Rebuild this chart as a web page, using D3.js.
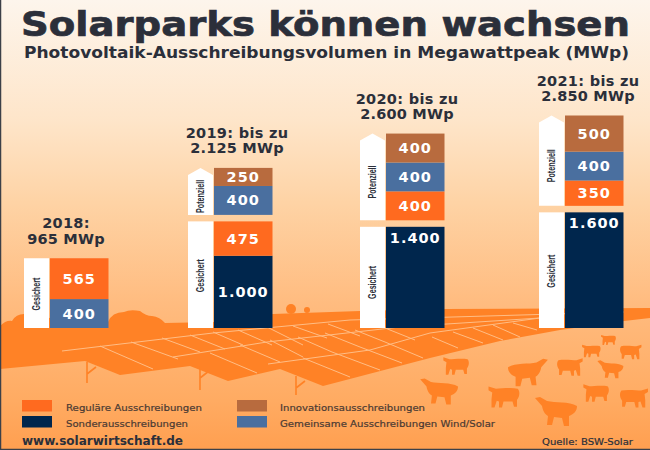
<!DOCTYPE html>
<html lang="de">
<head>
<meta charset="utf-8">
<title>Solarparks können wachsen</title>
<script src="https://cdn.jsdelivr.net/npm/d3@7"></script>
<style>
  html, body { margin: 0; padding: 0; background: #fff; }
  svg { display: block; }
  text { fill: #2b2f3a; font-family: "DejaVu Sans", sans-serif; font-weight: bold; }
</style>
</head>
<body>
<div id="chart"></div>
<script>
// Chart values
const years = ["2018", "2019", "2020", "2021"];
const headLine1 = ["2018:", "2019: bis zu", "2020: bis zu", "2021: bis zu"];
const headLine2 = ["965 MWp", "2.125 MWp", "2.600 MWp", "2.850 MWp"];

// secured volumes, stacked bottom-up: Gemeinsame, Sonder, Reguläre
const securedGemeinsam = [400, 0, 0, 0];
const securedSonder = [0, 1000, 1400, 1600];
const securedRegulaer = [565, 475, 0, 0];

// potential volumes, stacked bottom-up: Reguläre, Gemeinsame, Innovation
const potentialRegulaer = [0, 0, 400, 350];
const potentialGemeinsam = [0, 400, 400, 400];
const potentialInnovation = [0, 250, 400, 500];

const legendLabels = ["Reguläre Ausschreibungen", "Sonderausschreibungen", "Innovationsausschreibungen", "Gemeinsame Ausschreibungen Wind/Solar"];

const colors = { regulaer: "#ff6a1f", sonder: "#00264d", gemeinsam: "#4a6f9f", innovation: "#b86b3e" };

const width = 650;
const height = 450;
const barWidth = 58.5;
const tagWidth = 25;
const stackGap = 6.5;

const svg = d3.select("#chart").append("svg")
    .attr("width", width)
    .attr("height", height)
    .attr("viewBox", `0 0 ${width} ${height}`);

const xBar = d3.scaleOrdinal().domain(years).range([50, 214, 386, 565]);
const xHead = d3.scaleOrdinal().domain(years).range([66, 237, 407, 588]);
const yScale = d3.scaleLinear().domain([0, 2850]).range([328, 122]);
const len = v => yScale(0) - yScale(v);

// Background gradient
const bg = svg.append("defs").append("linearGradient")
    .attr("id", "bg").attr("x1", 0).attr("y1", 0).attr("x2", 0).attr("y2", 1);
[[0, "#fdf5ec"], [0.27, "#fee5c9"], [0.45, "#fed3a5"], [0.67, "#ffbc80"], [0.89, "#ffab62"], [1, "#ff9f50"]]
    .forEach(s => bg.append("stop").attr("offset", s[0]).attr("stop-color", s[1]));

svg.append("rect").attr("width", width).attr("height", height).attr("fill", "url(#bg)");

// Landscape decoration
const groundColor = "#ff8226";
const landscape = svg.append("g");

landscape.append("path")
    .attr("fill", groundColor)
    .attr("d", "M0,326 Q6,320 12,321 Q16,314 24,314 L50,318 L108,322 Q112,312 124,312 Q130,309 140,311 Q146,316 152,316 Q160,317 165,323 L215,322 L273,314 L360,311 L445,309 L650,308 L650,318 L624,321 L560,330 L500,341 L430,358 L323,386 L280,369 L228,381 L190,366 L120,375 L85,361 L0,369 Z");

[[291, 309, 5], [307, 310, 3]].forEach(c => {
    landscape.append("circle").attr("cx", c[0]).attr("cy", c[1]).attr("r", c[2]).attr("fill", groundColor);
});

// solar panel grid
const panelLines = [
    [62, 351, 213, 333], [213, 333, 350, 320], [350, 320, 624, 312],
    [173, 357, 267, 342], [267, 342, 400, 327], [400, 327, 540, 318],
    [268, 364, 370, 350], [370, 350, 430, 333], [430, 333, 540, 318],
    [100, 346, 153, 369], [131, 342, 178, 359], [162, 338, 200, 352], [190, 335, 225, 349],
    [213, 332, 243, 345], [238, 330, 272, 345], [267, 327, 303, 345], [293, 326, 327, 338], [328, 324, 360, 336],
    [210, 353, 257, 373], [240, 345, 280, 362],
    [303, 358, 350, 377], [332, 352, 380, 370], [360, 347, 402, 363], [385, 342, 423, 358],
    [270, 340, 303, 357], [298, 337, 332, 352], [325, 333, 360, 347], [355, 330, 385, 342], [385, 328, 415, 340],
    [432, 337, 458, 348], [453, 332, 483, 343], [473, 328, 503, 340], [493, 325, 520, 337], [513, 323, 537, 330]
];
landscape.selectAll(".panel-line")
    .data(panelLines)
    .enter()
    .append("line")
    .attr("class", "panel-line")
    .attr("x1", d => d[0]).attr("y1", d => d[1])
    .attr("x2", d => d[2]).attr("y2", d => d[3])
    .attr("stroke", "#ffbd85")
    .attr("stroke-width", 1);

// panel supports
[[87, 362, 383], [200, 366, 390], [296, 376, 395]].forEach(s => {
    landscape.append("path")
        .attr("fill", "none")
        .attr("stroke", groundColor)
        .attr("stroke-width", 1.6)
        .attr("d", `M${s[0]},${s[1]} V${s[2]} M${s[0]},${s[1] + 12} L${s[0] + 9},${s[1] + 5}`);
});

// sheep silhouettes
const sheepSide = "M-20,-5 C-12,-10 2,-8 10,-10 L17,-14 L22,-13 L15,-5 C14,1 11,4 9,5 L10,14 L5,14 L3,6 L-5,7 L-7,15 L-12,15 L-12,5 C-17,3 -20,0 -20,-5 Z";
const sheepFront = "M-17,-11 C-8,-13 6,-11 12,-11 L22,-14 L22,-9 L17,-6 L18,3 L18,14 L14,14 L11,5 L8,6 L8,14 L4,14 L2,6 L-10,6 L-12,13 L-16,13 L-16,4 C-20,-1 -20,-8 -17,-11 Z";
const flock = [
    [457, 366, 0.62, -1, sheepFront], [527, 372, 0.95, 1, sheepSide], [569, 367, 0.62, 1, sheepFront],
    [592, 351, 0.45, -1, sheepFront], [609, 340, 0.36, -1, sheepFront], [630, 352, 0.52, 1, sheepFront],
    [611, 369, 0.62, -1, sheepSide], [440, 391, 0.9, -1, sheepSide], [505, 397, 0.75, -1, sheepFront],
    [557, 411, 1, -1, sheepSide], [597, 393, 0.62, -1, sheepFront], [633, 398, 0.68, 1, sheepFront]
];
landscape.selectAll(".sheep")
    .data(flock)
    .enter()
    .append("path")
    .attr("class", "sheep")
    .attr("fill", groundColor)
    .attr("transform", d => `translate(${d[0]},${d[1]}) scale(${d[2] * d[3]},${d[2]})`)
    .attr("d", d => d[4]);

// Bars: build the stacked segments from the value arrays
const securedSeries = [[securedGemeinsam, colors.gemeinsam], [securedSonder, colors.sonder], [securedRegulaer, colors.regulaer]];
const potentialSeries = [[potentialRegulaer, colors.regulaer], [potentialGemeinsam, colors.gemeinsam], [potentialInnovation, colors.innovation]];
const fmt = d3.formatLocale({ thousands: ".", grouping: [3], decimal: ",", currency: ["", ""] }).format(",");

years.forEach((year, i) => {
    const x = xBar(year);
    const securedTotal = d3.sum(securedSeries, s => s[0][i]);
    const potentialTotal = d3.sum(potentialSeries, s => s[0][i]);

    // white tag column next to the secured stack
    svg.append("rect")
        .attr("x", x - tagWidth - 1).attr("y", yScale(securedTotal))
        .attr("width", tagWidth).attr("height", len(securedTotal))
        .attr("fill", "#fff");
    verticalLabel("Gesichert", x - 13.5, (yScale(securedTotal) + yScale(0)) / 2 + (year === "2020" ? 5 : 1));

    let base = 0;
    securedSeries.forEach(s => {
        if (s[0][i]) drawSegment(x, yScale(base + s[0][i]), len(s[0][i]), s[1], s[0][i]);
        base += s[0][i];
    });

    if (potentialTotal > 0) {
        const bottom = yScale(securedTotal) - stackGap;
        const top = bottom - len(potentialTotal);
        const left = x - tagWidth - 1;
        svg.append("path")
            .attr("fill", "#fff")
            .attr("d", `M${left},${bottom} V${top + 7} L${left + tagWidth / 2},${top} L${left + tagWidth},${top + 7} V${bottom} Z`);
        verticalLabel("Potenziell", x - 13.5, (top + bottom) / 2 + 5);

        let y = bottom;
        potentialSeries.forEach(s => {
            if (s[0][i]) {
                y -= len(s[0][i]);
                drawSegment(x, y, len(s[0][i]), s[1], s[0][i]);
            }
        });
    }

    // Heading above each stack
    const headY = potentialTotal > 0
        ? yScale(securedTotal) - stackGap - len(potentialTotal) - 30
        : yScale(securedTotal) - 30;
    svg.append("text").attr("x", xHead(year)).attr("y", headY).attr("text-anchor", "middle")
        .attr("font-size", 14.5).attr("letter-spacing", 0.3).text(headLine1[i]);
    svg.append("text").attr("x", xHead(year)).attr("y", headY + 15.5).attr("text-anchor", "middle")
        .attr("font-size", 14.5).attr("letter-spacing", 0.2).text(headLine2[i]);
});

function drawSegment(x, y, h, color, value) {
    svg.append("rect")
        .attr("x", x).attr("y", y)
        .attr("width", barWidth).attr("height", h)
        .attr("fill", color);
    // tall navy bars carry the number near their top
    const labelY = h > 90 ? y + 16 : y + h / 2 + 5;
    svg.append("text")
        .attr("x", x + barWidth / 2).attr("y", labelY)
        .attr("text-anchor", "middle")
        .attr("font-size", 14.5)
        .attr("letter-spacing", 1)
        .style("fill", "#fff")
        .text(fmt(value));
}

function verticalLabel(label, x, y) {
    svg.append("text")
        .attr("transform", `translate(${x + 3.5},${y}) rotate(-90)`)
        .attr("text-anchor", "middle")
        .style("font-family", "'Liberation Sans', sans-serif")
        .attr("font-size", 10)
        .attr("textLength", 33)
        .attr("lengthAdjust", "spacingAndGlyphs")
        .text(label);
}

// Title block
svg.append("text").attr("x", 21).attr("y", 36)
    .attr("font-size", 33)
    .attr("stroke", "#2b2f3a")
    .attr("stroke-width", 0.7)
    .attr("textLength", 609).attr("lengthAdjust", "spacingAndGlyphs")
    .text("Solarparks können wachsen");

svg.append("text").attr("x", 24).attr("y", 57.5)
    .attr("font-size", 15.5)
    .attr("textLength", 605).attr("lengthAdjust", "spacingAndGlyphs")
    .text("Photovoltaik-Ausschreibungsvolumen in Megawattpeak (MWp)");

// Legend
const legendX = [22, 22, 237, 237];
const legendY = [400, 416, 400, 416];
const legendColors = [colors.regulaer, colors.sonder, colors.innovation, colors.gemeinsam];
const legendLength = [136, 122, 145, 215];

legendLabels.forEach((label, i) => {
    svg.append("rect")
        .attr("x", legendX[i]).attr("y", legendY[i])
        .attr("width", 30).attr("height", 11.5)
        .attr("fill", legendColors[i]);
    svg.append("text")
        .attr("x", legendX[i] + (i < 2 ? 44 : 43)).attr("y", legendY[i] + 11)
        .style("font-weight", "normal")
        .style("fill", "#4a3a33")
        .attr("stroke", "#4a3a33")
        .attr("stroke-width", 0.2)
        .attr("font-size", 9.5)
        .attr("textLength", legendLength[i]).attr("lengthAdjust", "spacingAndGlyphs")
        .text(label);
});

// Footer
svg.append("text").attr("x", 22).attr("y", 445)
    .attr("font-size", 11.5)
    .attr("textLength", 161).attr("lengthAdjust", "spacingAndGlyphs")
    .text("www.solarwirtschaft.de");

svg.append("text").attr("x", 542).attr("y", 445)
    .style("font-weight", "normal")
    .attr("stroke", "#2b2f3a")
    .attr("stroke-width", 0.2)
    .attr("font-size", 9.5)
    .attr("textLength", 91).attr("lengthAdjust", "spacingAndGlyphs")
    .text("Quelle: BSW-Solar");

// Thin dark frame on the left and bottom edges
svg.append("path")
    .attr("fill", "none")
    .attr("stroke", "#3c4048")
    .attr("stroke-width", 1.5)
    .attr("d", `M0.5,0 V${height - 0.5} H${width}`);
</script>
</body>
</html>
